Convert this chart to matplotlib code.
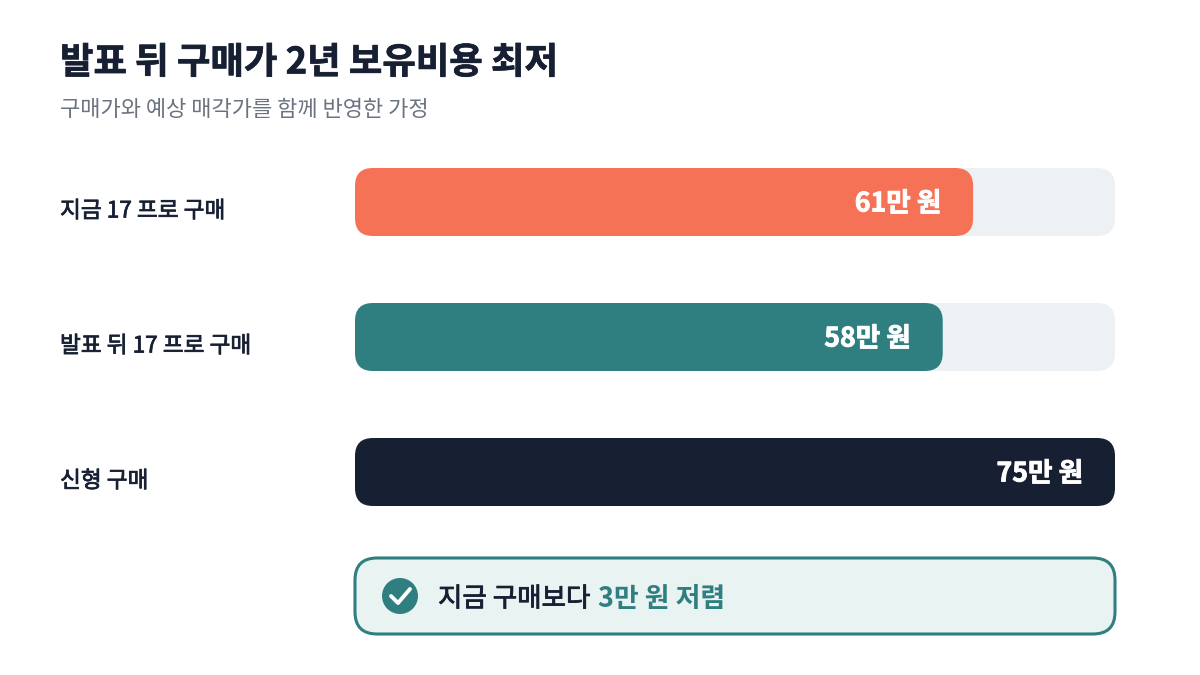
import matplotlib
matplotlib.use('Agg')
from matplotlib import pyplot as plt
from matplotlib import patheffects as pe
from matplotlib.patches import Circle, FancyBboxPatch, PathPatch
from matplotlib.path import Path

plt.rcParams['font.family'] = ['Noto Sans CJK KR', 'DejaVu Sans']

title = '발표 뒤 구매가 2년 보유비용 최저'
subtitle = '구매가와 예상 매각가를 함께 반영한 가정'
labels = ['지금 17 프로 구매', '발표 뒤 17 프로 구매', '신형 구매']
values = [61, 58, 75]
value_texts = ['61만 원', '58만 원', '75만 원']
colors = ['#F57257', '#2F7F80', '#172033']
note_plain = '지금 구매보다'
note_strong = '3만 원 저렴'

fig = plt.figure(figsize=(12, 6.75), dpi=100)
ax = fig.add_axes([0, 0, 1, 1])
ax.set_xlim(0, 1200)
ax.set_ylim(675, 0)
ax.axis('off')


def round_bar(x, y, w, h, r, **kw):
    patch = FancyBboxPatch((x + r, y + r), w - 2 * r, h - 2 * r,
                           boxstyle='round,pad=%s,rounding_size=%s' % (r, r), **kw)
    ax.add_patch(patch)
    return patch


# 字重不够时用同色描边加粗
def heavy(color, width):
    return [pe.withStroke(linewidth=width, foreground=color)]


ax.text(60, 63, title, fontsize=26.2, fontweight='bold', color='#172033', va='center',
        path_effects=heavy('#172033', 0.5))
ax.text(60, 110, subtitle, fontsize=15.85, color='#6B7280', va='center')

bar_left = 355
bar_width = 760
bar_max = 75
bar_tops = [168, 303, 438]
bar_height = 68

for i in range(len(values)):
    top = bar_tops[i]
    w = bar_width * values[i] / bar_max
    round_bar(bar_left, top, bar_width, bar_height, 18, fc='#EDF1F4', ec='none')
    round_bar(bar_left, top, w, bar_height, 18, fc=colors[i], ec='none')
    ax.text(60, top + 43, labels[i], fontsize=16.3, color='#172033', va='center',
            path_effects=heavy('#172033', 0.55))
    ax.text(bar_left + w - 32, top + 36, value_texts[i], fontsize=19.2, fontweight='bold',
            color='white', va='center', ha='right', path_effects=heavy('white', 0.6))

round_bar(355, 558, 760, 76, 22, fc='#E9F3F1', ec='#2F7F80', lw=2.2)
ax.add_patch(Circle((400, 596), 18, fc='#2F7F80', ec='none'))
check = Path([(391, 596), (398, 603), (410, 589)], [Path.MOVETO, Path.LINETO, Path.LINETO])
ax.add_patch(PathPatch(check, fc='none', ec='white', lw=2.8, capstyle='round', joinstyle='round'))

ax.text(438, 599, note_plain, fontsize=19.1, color='#172033', va='center',
        path_effects=heavy('#172033', 0.6))
ax.text(598, 599, note_strong, fontsize=19.4, fontweight='bold', color='#2F7F80', va='center')

fig.savefig('out.png', dpi=100)
